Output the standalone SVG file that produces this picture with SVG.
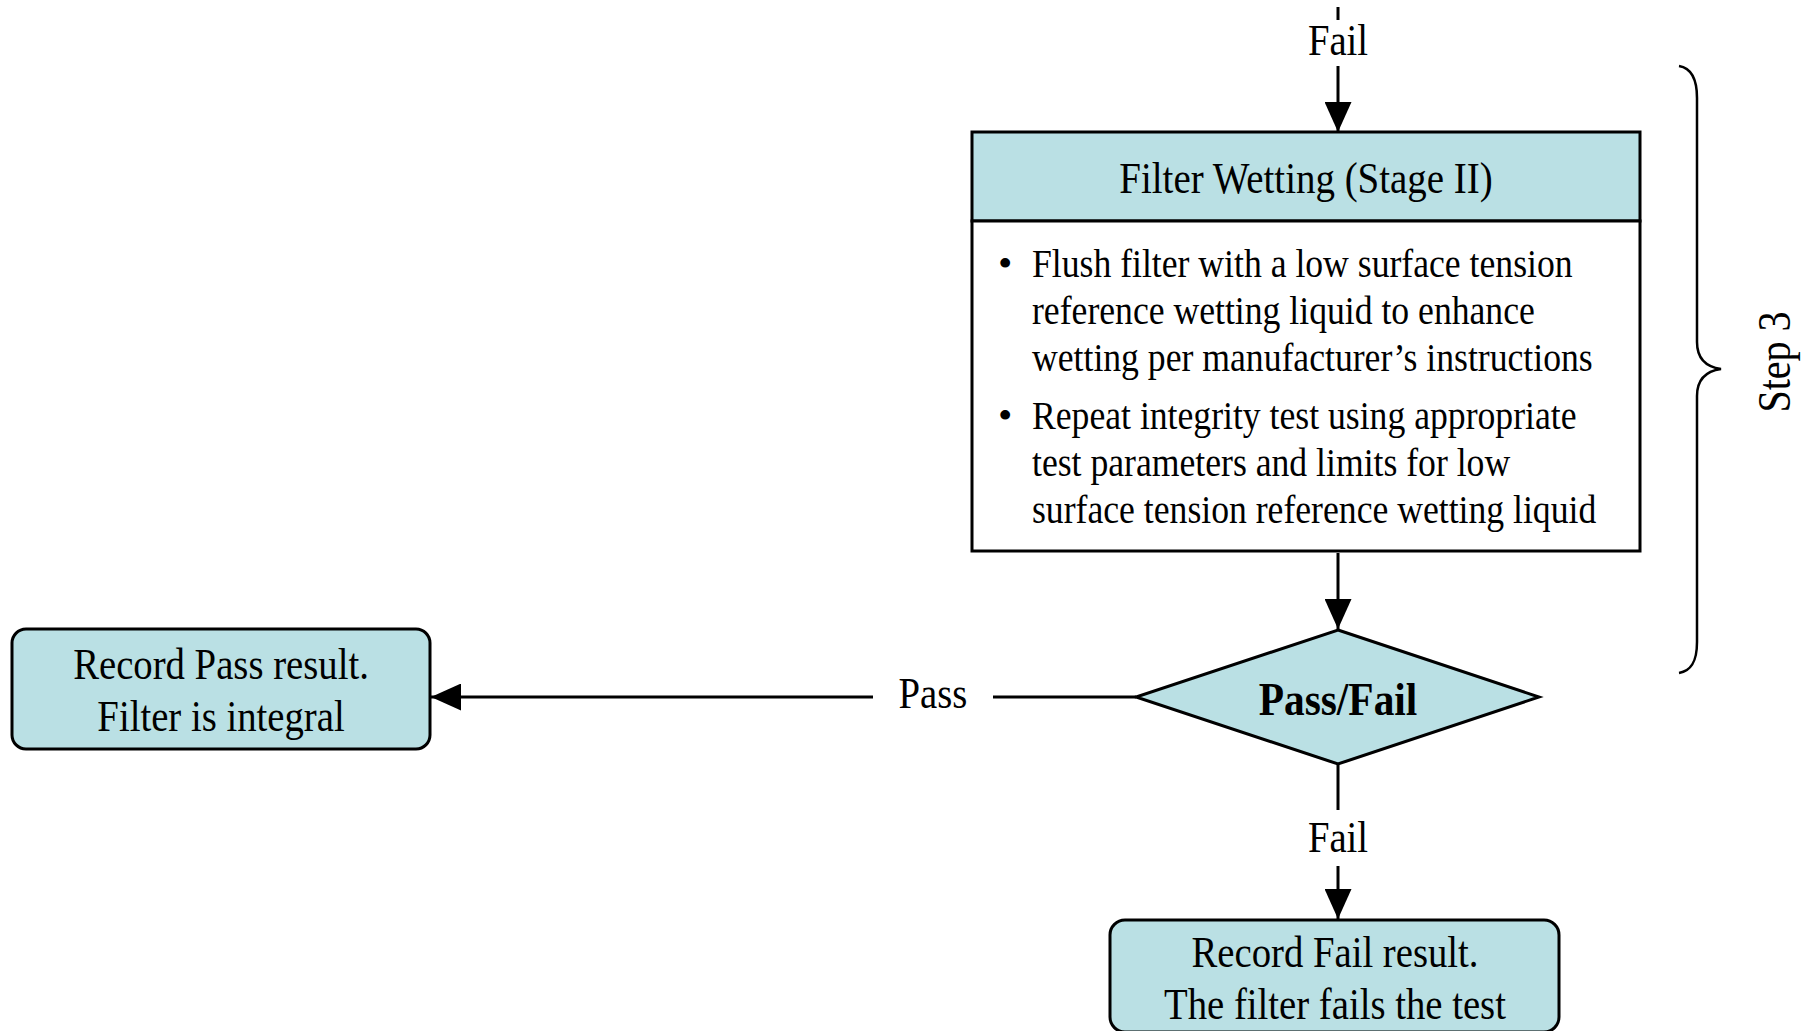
<svg xmlns="http://www.w3.org/2000/svg" width="1808" height="1031" viewBox="0 0 1808 1031">
<style>
.t{font-family:"Liberation Serif","Times New Roman",serif;font-size:44px;fill:#000}
.b{font-size:41px}
.c{text-anchor:middle}
.bold{font-weight:bold;font-size:46px}
.box{fill:#bae0e4;stroke:#000;stroke-width:3}
.wbox{fill:#fff;stroke:#000;stroke-width:3}
.ln{stroke:#000;stroke-width:3;fill:none}
</style>
<defs>
<marker id="ah" viewBox="0 0 30 27" refX="30" refY="13.5" markerWidth="30" markerHeight="27" markerUnits="userSpaceOnUse" orient="auto">
<path d="M0,0 L30,13.5 L0,27 Z" fill="#000"/>
</marker>
</defs>
<rect width="1808" height="1031" fill="#fff"/>

<g id="connectors">
<line class="ln" x1="1338" y1="7" x2="1338" y2="20"/>
<line class="ln" x1="1338" y1="66" x2="1338" y2="132" marker-end="url(#ah)"/>
<line class="ln" x1="1338" y1="553" x2="1338" y2="629" marker-end="url(#ah)"/>
<line class="ln" x1="1136" y1="697" x2="993" y2="697"/>
<line class="ln" x1="873" y1="697" x2="431" y2="697" marker-end="url(#ah)"/>
<line class="ln" x1="1338" y1="764" x2="1338" y2="810"/>
<line class="ln" x1="1338" y1="866" x2="1338" y2="919" marker-end="url(#ah)"/>
<text class="t c" transform="translate(1338,55) scale(0.88,1)">Fail</text>
<text class="t c" transform="translate(933,708) scale(0.88,1)">Pass</text>
<text class="t c" transform="translate(1338,852) scale(0.88,1)">Fail</text>
</g>

<g id="filter-wetting">
<rect class="box" x="972" y="132" width="668" height="89"/>
<rect class="wbox" x="972" y="221" width="668" height="330"/>
<text class="t c" transform="translate(1306,193) scale(0.885,1)">Filter Wetting (Stage II)</text>
<text class="t b" x="998" y="277">•</text>
<text class="t b" transform="translate(1032,277) scale(0.87,1)">Flush filter with a low surface tension</text>
<text class="t b" transform="translate(1032,324) scale(0.87,1)">reference wetting liquid to enhance</text>
<text class="t b" transform="translate(1032,371) scale(0.87,1)">wetting per manufacturer’s instructions</text>
<text class="t b" x="998" y="429">•</text>
<text class="t b" transform="translate(1032,429) scale(0.87,1)">Repeat integrity test using appropriate</text>
<text class="t b" transform="translate(1032,476) scale(0.87,1)">test parameters and limits for low</text>
<text class="t b" transform="translate(1032,523) scale(0.87,1)">surface tension reference wetting liquid</text>
</g>

<g id="decision">
<path class="box" d="M1338,630 L1539,697 L1338,764 L1136,697 Z"/>
<text class="t c bold" transform="translate(1338,715) scale(0.9,1)">Pass/Fail</text>
</g>

<g id="record-pass">
<rect class="box" x="12" y="629" width="418" height="120" rx="14"/>
<text class="t c" transform="translate(221,679) scale(0.88,1)">Record Pass result.</text>
<text class="t c" transform="translate(221,731) scale(0.88,1)">Filter is integral</text>
</g>

<g id="record-fail">
<rect class="box" x="1110" y="920" width="449" height="112" rx="15"/>
<text class="t c" transform="translate(1335,967) scale(0.88,1)">Record Fail result.</text>
<text class="t c" transform="translate(1335,1019) scale(0.88,1)">The filter fails the test</text>
</g>

<g id="step3">
<path d="M1679,66 C1691,68 1697,78 1697,98 L1697,342 C1697,360 1707,367 1721,369 C1707,371 1697,378 1697,396 L1697,642 C1697,662 1691,671 1679,673" fill="none" stroke="#000" stroke-width="2.5"/>
<text class="t c" transform="translate(1790,362) rotate(-90) scale(0.87,1)" style="font-size:46px">Step 3</text>
</g>
</svg>
